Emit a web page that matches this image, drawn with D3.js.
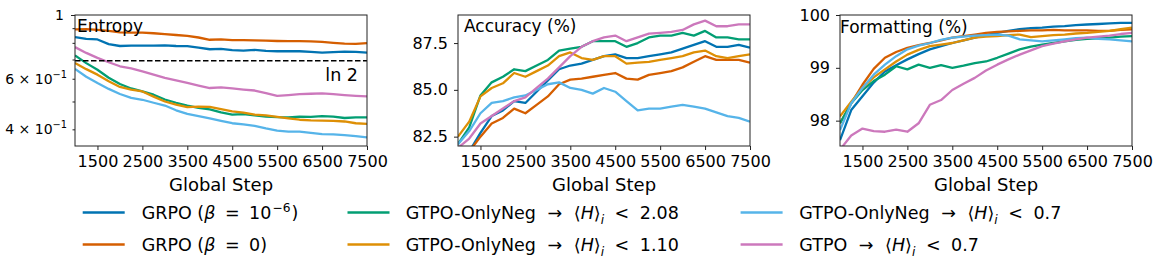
<!DOCTYPE html>
<html>
<head>
<meta charset="utf-8">
<script src="https://cdn.jsdelivr.net/npm/d3@7"></script>
<style>
  body { margin: 0; background: #fff; }
  text { font-family: "DejaVu Sans", sans-serif; fill: #000; }
</style>
</head>
<body>
<svg id="chart" width="1163" height="275"></svg>
<script>
// training steps shared by every series
const steps = [1000, 1250, 1500, 1750, 2000, 2250, 2500, 2750, 3000, 3250, 3500, 3750, 4000, 4250,
  4500, 4750, 5000, 5250, 5500, 5750, 6000, 6250, 6500, 6750, 7000, 7250, 7500];
const xTicks = [1500, 2500, 3500, 4500, 5500, 6500, 7500];

const seriesColors = ["#0173b2", "#d55e00", "#029e73", "#de8f05", "#56b4e9", "#cc78bc"];

// entropy (log scale)
const entGrpoKl = [0.838, 0.826, 0.822, 0.792, 0.780, 0.782, 0.783, 0.782, 0.784, 0.780, 0.779, 0.770, 0.760, 0.762,
  0.755, 0.752, 0.756, 0.750, 0.748, 0.749, 0.748, 0.744, 0.740, 0.743, 0.746, 0.744, 0.740];
const entGrpo = [0.891, 0.893, 0.887, 0.880, 0.870, 0.868, 0.868, 0.864, 0.858, 0.852, 0.846, 0.835, 0.820, 0.822,
  0.818, 0.817, 0.816, 0.814, 0.812, 0.811, 0.811, 0.810, 0.806, 0.800, 0.795, 0.793, 0.798];
const entNeg208 = [0.723, 0.680, 0.645, 0.605, 0.575, 0.555, 0.542, 0.528, 0.508, 0.495, 0.484, 0.475, 0.469, 0.458,
  0.450, 0.452, 0.447, 0.443, 0.441, 0.440, 0.443, 0.442, 0.445, 0.443, 0.438, 0.440, 0.440];
const entNeg110 = [0.681, 0.648, 0.620, 0.588, 0.562, 0.550, 0.542, 0.520, 0.500, 0.488, 0.478, 0.480, 0.479, 0.470,
  0.462, 0.457, 0.450, 0.447, 0.442, 0.437, 0.432, 0.430, 0.429, 0.428, 0.426, 0.420, 0.418];
const entNeg07 = [0.649, 0.610, 0.580, 0.553, 0.531, 0.515, 0.507, 0.495, 0.484, 0.466, 0.453, 0.445, 0.437, 0.428,
  0.420, 0.416, 0.411, 0.403, 0.396, 0.393, 0.393, 0.389, 0.385, 0.384, 0.382, 0.379, 0.375];
const entGtpo07 = [0.773, 0.738, 0.709, 0.685, 0.663, 0.652, 0.637, 0.620, 0.604, 0.592, 0.580, 0.568, 0.557, 0.560,
  0.555, 0.550, 0.546, 0.535, 0.523, 0.526, 0.530, 0.532, 0.534, 0.530, 0.526, 0.523, 0.521];

// accuracy (%)
const accGrpoKl = [80.8, 81.7, 82.7, 83.6, 83.9, 84.4, 84.3, 84.9, 85.5, 86.1, 86.3, 86.4, 86.6, 86.8,
  86.9, 86.7, 86.7, 86.8, 86.9, 87.0, 87.2, 87.4, 87.6, 87.3, 87.3, 87.4, 87.25];
const accGrpo = [81.0, 81.7, 82.5, 83.2, 83.5, 84.0, 83.75, 84.2, 84.65, 85.3, 85.55, 85.6, 85.7, 85.8,
  85.9, 85.6, 85.55, 85.8, 85.9, 86.0, 86.2, 86.5, 86.8, 86.6, 86.6, 86.6, 86.45];
const accNeg208 = [82.1, 83.0, 84.7, 85.4, 85.7, 86.1, 86.0, 86.3, 86.6, 87.1, 87.2, 87.3, 87.6, 87.6,
  87.6, 87.3, 87.5, 87.8, 87.9, 87.9, 88.05, 87.9, 88.15, 87.8, 87.8, 87.7, 87.7];
const accNeg110 = [82.5, 83.3, 84.65, 85.1, 85.35, 85.9, 85.7, 86.0, 86.3, 86.8, 87.0, 86.7, 86.6, 86.8,
  86.8, 86.4, 86.45, 86.5, 86.6, 86.7, 86.8, 87.0, 87.1, 86.8, 86.7, 86.8, 86.9];
const accNeg07 = [82.1, 82.8, 83.75, 84.3, 84.4, 84.6, 84.7, 85.0, 85.3, 85.4, 85.1, 85.0, 84.8, 85.1,
  84.9, 84.4, 83.9, 84.0, 84.0, 84.1, 84.2, 84.1, 84.0, 83.8, 83.6, 83.5, 83.3];
const accGtpo07 = [81.9, 82.4, 83.2, 83.6, 84.0, 84.4, 84.6, 85.1, 85.6, 86.2, 86.8, 87.3, 87.6, 87.8,
  87.9, 87.6, 87.8, 88.0, 88.05, 88.1, 88.2, 88.5, 88.7, 88.4, 88.4, 88.5, 88.5];

// formatting (%)
const fmtGrpoKl = [97.63, 98.2, 98.46, 98.72, 98.93, 99.05, 99.16, 99.26, 99.35, 99.41, 99.47, 99.52, 99.57, 99.62,
  99.66, 99.7, 99.73, 99.75, 99.76, 99.78, 99.79, 99.81, 99.82, 99.83, 99.84, 99.85, 99.85];
const fmtGrpo = [97.95, 98.33, 98.68, 98.98, 99.19, 99.3, 99.38, 99.43, 99.47, 99.52, 99.57, 99.6, 99.63, 99.66,
  99.68, 99.69, 99.7, 99.71, 99.71, 99.72, 99.71, 99.71, 99.71, 99.7, 99.7, 99.72, 99.73];
const fmtNeg208 = [97.95, 98.33, 98.58, 98.75, 98.87, 99.03, 98.97, 99.06, 99.0, 99.05, 99.0, 99.04, 99.09, 99.12,
  99.19, 99.27, 99.35, 99.4, 99.44, 99.47, 99.5, 99.53, 99.55, 99.56, 99.57, 99.59, 99.6];
const fmtNeg110 = [98.08, 98.36, 98.62, 98.82, 98.97, 99.12, 99.25, 99.34, 99.41, 99.44, 99.47, 99.52, 99.57, 99.59,
  99.6, 99.62, 99.63, 99.58, 99.6, 99.62, 99.63, 99.65, 99.66, 99.68, 99.7, 99.73, 99.76];
const fmtNeg07 = [97.82, 98.33, 98.62, 98.87, 99.06, 99.22, 99.35, 99.42, 99.47, 99.53, 99.57, 99.59, 99.61, 99.62,
  99.63, 99.61, 99.54, 99.52, 99.5, 99.52, 99.54, 99.56, 99.57, 99.55, 99.54, 99.52, 99.5];
const fmtGtpo07 = [97.45, 97.72, 97.85, 97.8, 97.79, 97.83, 97.79, 97.95, 98.3, 98.39, 98.58, 98.7, 98.81, 98.95,
  99.06, 99.16, 99.25, 99.33, 99.41, 99.46, 99.5, 99.54, 99.57, 99.59, 99.61, 99.64, 99.66];

const svg = d3.select("#chart");
const plotTop = 15, plotBottom = 146, panelW = 292;

// little helper for mathtext-ish labels; {gap: px} adds space before the next piece
function richText(sel, parts, size) {
  let shift = 0, gap = 0;
  parts.forEach(p => {
    if (p.gap) { gap += p.gap; return; }
    const ts = sel.append("tspan").text(p.t);
    const target = p.sup ? -0.42 * size : p.sub ? 0.28 * size : 0;
    if (target !== shift) { ts.attr("dy", target - shift); shift = target; }
    if (gap) { ts.attr("dx", gap); gap = 0; }
    if (p.sup || p.sub) ts.attr("font-size", size * 0.7);
    if (p.it) ts.attr("font-style", "italic");
  });
}

const panels = [
  { left: 75, title: "Entropy", titleDx: 2, titleY: 32,
    y: d3.scaleLog().domain([0.35, 1]).range([plotBottom, plotTop]),
    series: [entGrpoKl, entGrpo, entNeg208, entNeg110, entNeg07, entGtpo07] },
  { left: 458, title: "Accuracy (%)", titleDx: 6, titleY: 32,
    y: d3.scaleLinear().domain([82.0, 89.0]).range([plotBottom, plotTop]),
    yTicks: [82.5, 85.0, 87.5], yFmt: d3.format(".1f"),
    series: [accGrpoKl, accGrpo, accNeg208, accNeg110, accNeg07, accGtpo07] },
  { left: 840, title: "Formatting (%)", titleDx: 0, titleY: 33,
    y: d3.scaleLinear().domain([97.52, 100]).range([plotBottom, plotTop]),
    yTicks: [98, 99, 100], yFmt: d3.format("d"),
    series: [fmtGrpoKl, fmtGrpo, fmtNeg208, fmtNeg110, fmtNeg07, fmtGtpo07] }
];

panels.forEach((p, pi) => {
  const x = d3.scaleLinear().domain([1000, 7500]).range([p.left, p.left + panelW]);
  const y = p.y;

  const clipId = "clip" + pi;
  svg.append("clipPath").attr("id", clipId).append("rect")
    .attr("x", p.left).attr("y", plotTop).attr("width", panelW).attr("height", plotBottom - plotTop);

  // x axis
  const gx = svg.append("g").attr("transform", `translate(0,${plotBottom})`)
    .call(d3.axisBottom(x).tickValues(xTicks).tickFormat(d3.format("d")).tickSize(4).tickPadding(5.5).tickSizeOuter(0));
  gx.select(".domain").remove();
  gx.selectAll("text").attr("font-size", 16).attr("font-family", "DejaVu Sans");
  gx.selectAll("line").attr("stroke", "#222");

  // y axis
  if (pi === 0) {
    const minor = [0.4, 0.5, 0.6, 0.7, 0.8, 0.9];
    const gy = svg.append("g").attr("transform", `translate(${p.left},0)`)
      .call(d3.axisLeft(y).tickValues(minor).tickFormat("").tickSize(2.5).tickSizeOuter(0));
    gy.select(".domain").remove();
    gy.selectAll("line").attr("stroke", "#222");
    const gy2 = svg.append("g").attr("transform", `translate(${p.left},0)`)
      .call(d3.axisLeft(y).tickValues([1]).tickFormat(d3.format("d")).tickSize(4).tickPadding(7).tickSizeOuter(0));
    gy2.select(".domain").remove();
    gy2.selectAll("line").attr("stroke", "#222");
    gy2.selectAll("text").attr("font-size", 14).attr("font-family", "DejaVu Sans");
    [[0.6, "6"], [0.4, "4"]].forEach(([v, m]) => {
      const t = svg.append("text").attr("x", p.left - 8).attr("y", y(v) + 5)
        .attr("text-anchor", "end").attr("font-size", 14);
      richText(t, [{ t: m + " \u00d7 10" }, { t: "\u22121", sup: 1 }], 14);
    });
  } else {
    const gy = svg.append("g").attr("transform", `translate(${p.left},0)`)
      .call(d3.axisLeft(y).tickValues(p.yTicks).tickFormat(p.yFmt).tickSize(4).tickPadding(6).tickSizeOuter(0));
    gy.select(".domain").remove();
    gy.selectAll("text").attr("font-size", 16).attr("font-family", "DejaVu Sans");
    gy.selectAll("line").attr("stroke", "#222");
  }

  // lines
  const line = d3.line().x((d, i) => x(steps[i])).y(d => y(d));
  const g = svg.append("g").attr("clip-path", `url(#${clipId})`);
  p.series.forEach((s, si) => {
    g.append("path").datum(s).attr("d", line)
      .attr("fill", "none").attr("stroke", seriesColors[si])
      .attr("stroke-width", 2.3).attr("stroke-linejoin", "round");
  });

  if (pi === 0) {
    g.append("line").attr("x1", p.left).attr("x2", p.left + panelW)
      .attr("y1", y(Math.LN2)).attr("y2", y(Math.LN2))
      .attr("stroke", "#000").attr("stroke-width", 1.5).attr("stroke-dasharray", "5.5,2.5");
    svg.append("text").attr("x", p.left + panelW - 9).attr("y", y(Math.LN2) + 20)
      .attr("text-anchor", "end").attr("font-size", 17.5).text("ln 2");
  }

  // frame
  svg.append("rect").attr("x", p.left).attr("y", plotTop).attr("width", panelW).attr("height", plotBottom - plotTop)
    .attr("fill", "none").attr("stroke", "#222").attr("stroke-width", 1);

  svg.append("text").attr("x", p.left + p.titleDx).attr("y", p.titleY)
    .attr("font-size", 17).text(p.title);

  svg.append("text").attr("x", p.left + panelW / 2).attr("y", 191)
    .attr("text-anchor", "middle").attr("font-size", 18).text("Global Step");
});

// legend
const hi = v => [{ t: "\u27e8" }, { t: "H", it: 1 }, { t: "\u27e9" }, { t: "i", it: 1, sub: 1 },
  { gap: 5 }, { t: " <" }, { gap: 5 }, { t: " " + v }];
const toArrow = name => [{ t: name + " " }, { gap: 6 }, { t: "\u2192" }, { gap: 6 }, { t: " " }];
const legendItems = [
  { lx: 82.7, tx: 141.7, row: 0, parts: [{ t: "GRPO (" }, { t: "\u03b2", it: 1 }, { gap: 4 }, { t: " =" }, { gap: 4 }, { t: " 10" }, { gap: 1 }, { t: "\u22126", sup: 1 }, { gap: 1 }, { t: ")" }] },
  { lx: 82.7, tx: 141.7, row: 1, parts: [{ t: "GRPO (" }, { t: "\u03b2", it: 1 }, { gap: 4 }, { t: " =" }, { gap: 4 }, { t: " 0)" }] },
  { lx: 347.5, tx: 405.7, row: 0, parts: toArrow("GTPO-OnlyNeg").concat(hi("2.08")) },
  { lx: 347.5, tx: 405.7, row: 1, parts: toArrow("GTPO-OnlyNeg").concat(hi("1.10")) },
  { lx: 740.6, tx: 799.3, row: 0, parts: toArrow("GTPO-OnlyNeg").concat(hi("0.7")) },
  { lx: 740.6, tx: 799.3, row: 1, parts: toArrow("GTPO").concat(hi("0.7")) }
];
const rowY = [212.5, 244.5];
legendItems.forEach((it, i) => {
  const yy = rowY[it.row];
  svg.append("line").attr("x1", it.lx).attr("x2", it.lx + 42).attr("y1", yy).attr("y2", yy)
    .attr("stroke", seriesColors[i]).attr("stroke-width", 2.3);
  const t = svg.append("text").attr("x", it.tx).attr("y", yy + 6.5)
    .attr("font-size", 17.5).style("white-space", "pre");
  richText(t, it.parts, 17.5);
});
</script>
</body>
</html>
